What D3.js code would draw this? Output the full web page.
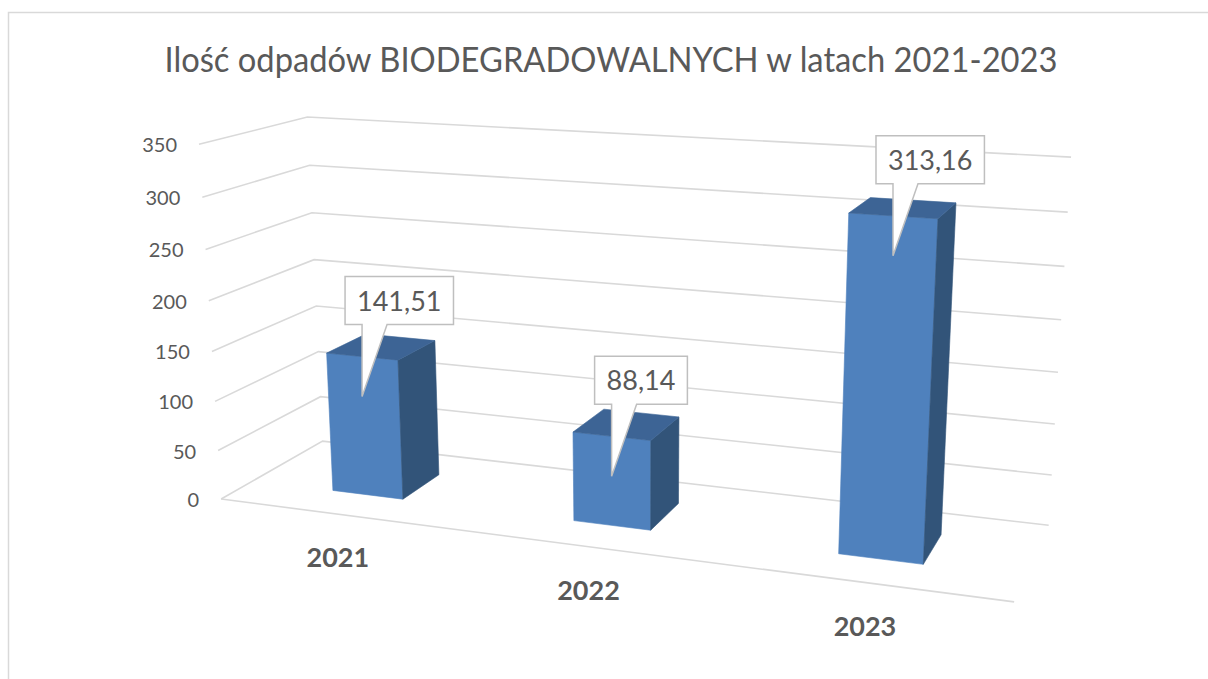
<!DOCTYPE html>
<html><head><meta charset="utf-8">
<script src="https://cdn.jsdelivr.net/npm/d3@7"></script>
<style>body{margin:0;background:#fff;overflow:hidden}</style>
</head><body>
<svg id="chart" width="1208" height="679"></svg>
<script>
// ---- data ----
const categories = ["2021", "2022", "2023"];
const values = [141.51, 88.14, 313.16];
const valueLabels = ["141,51", "88,14", "313,16"];
const yTicks = [0, 50, 100, 150, 200, 250, 300, 350];
const yMax = 350;
const title = "Ilość odpadów BIODEGRADOWALNYCH w latach 2021-2023";

// ---- 3D frame calibration (world [cat, value, depth] -> screen) ----
const frame = [
  {w: [0, 0, 0], s: [222, 499]},
  {w: [0, 0, 1], s: [322, 441]},
  {w: [1, 0, 1], s: [1049, 525]},
  {w: [1, 0, 0], s: [1014, 602]},
  {w: [0, 1, 0], s: [199, 144]},
  {w: [0, 1, 1], s: [308, 117]},
  {w: [1, 1, 1], s: [1071, 157]},
  {w: [0, 4/7, 0], s: [208, 301]},
  {w: [0, 4/7, 1], s: [314, 260]},
  {w: [1, 4/7, 1], s: [1061, 320]}
];

function solveLinear(M, r) {
  const n = r.length;
  const A = M.map((row, i) => row.concat([r[i]]));
  for (let c = 0; c < n; c++) {
    let p = c;
    for (let i = c + 1; i < n; i++) if (Math.abs(A[i][c]) > Math.abs(A[p][c])) p = i;
    [A[c], A[p]] = [A[p], A[c]];
    for (let i = 0; i < n; i++) {
      if (i === c) continue;
      const f = A[i][c] / A[c][c];
      for (let k = c; k <= n; k++) A[i][k] -= f * A[c][k];
    }
  }
  return A.map((row, i) => row[n] / row[i]);
}

function calibrate(pts) {
  const rows = [], rhs = [];
  pts.forEach(({w: [X, Y, Z], s: [u, v]}) => {
    rows.push([X, Y, Z, 1, 0, 0, 0, 0, -u * X, -u * Y, -u * Z]); rhs.push(u);
    rows.push([0, 0, 0, 0, X, Y, Z, 1, -v * X, -v * Y, -v * Z]); rhs.push(v);
  });
  const n = 11;
  const M = d3.range(n).map(i => d3.range(n).map(j => d3.sum(rows, r => r[i] * r[j])));
  const r = d3.range(n).map(i => d3.sum(rows, (row, k) => row[i] * rhs[k]));
  const p = solveLinear(M, r);
  return (X, Y, Z) => {
    const w = p[8] * X + p[9] * Y + p[10] * Z + 1;
    return [(p[0] * X + p[1] * Y + p[2] * Z + p[3]) / w,
            (p[4] * X + p[5] * Y + p[6] * Z + p[7]) / w];
  };
}
const proj = calibrate(frame);

// ---- scales ----
const x = d3.scaleBand().domain(categories).range([0, 1]).paddingInner(0.7).paddingOuter(0.35);
const y = d3.scaleLinear().domain([0, yMax]).range([0, 1]);
const zFront = 0.3, zBack = 0.7;

const svg = d3.select("#chart");
const FONT = "Lato, 'Open Sans', sans-serif";
const grid = "#d9d9d9";

// border
svg.append("rect").attr("x", 8.5).attr("y", 12.5).attr("width", 1400).attr("height", 900)
  .attr("fill", "none").attr("stroke", "#d9d9d9").attr("stroke-width", 1.5);

// title
svg.append("text").attr("x", 611).attr("y", 72).attr("text-anchor", "middle")
  .attr("font-family", FONT).attr("font-size", 34).attr("fill", "#595959")
  .attr("textLength", 893).attr("lengthAdjust", "spacingAndGlyphs")
  .text(title);

const line = d3.line();

// gridlines: left wall + back wall
svg.append("g").selectAll("path").data(yTicks).join("path")
  .attr("d", t => line([proj(0, y(t), 0), proj(0, y(t), 1), proj(1, y(t), 1)]))
  .attr("fill", "none").attr("stroke", grid).attr("stroke-width", 1.6);
// floor front edge
svg.append("path").attr("d", line([proj(0, 0, 0), proj(1, 0, 0)]))
  .attr("fill", "none").attr("stroke", grid).attr("stroke-width", 1.6);

// y tick labels
svg.append("g").selectAll("text").data(yTicks).join("text")
  .attr("x", t => proj(0, y(t), 0)[0] - 22)
  .attr("y", t => proj(0, y(t), 0)[1] + 8)
  .attr("text-anchor", "end").attr("font-family", FONT).attr("font-size", 20)
  .attr("fill", "#595959").text(t => t);

// bars
const bars = categories.map((c, i) => ({c, v: values[i], label: valueLabels[i]}));
const faces = d => {
  const x0 = x(d.c), x1 = x0 + x.bandwidth(), h = y(d.v);
  return [
    {k: "front", fill: "#4f81bd", pts: [[x0, 0, zFront], [x1, 0, zFront], [x1, h, zFront], [x0, h, zFront]]},
    {k: "side", fill: "#325479", pts: [[x1, 0, zFront], [x1, 0, zBack], [x1, h, zBack], [x1, h, zFront]]},
    {k: "top", fill: "#3d6495", pts: [[x0, h, zFront], [x1, h, zFront], [x1, h, zBack], [x0, h, zBack]]}
  ];
};
svg.append("g").selectAll("g").data(bars).join("g")
  .selectAll("path").data(faces).join("path")
  .attr("d", f => line(f.pts.map(p => proj(...p))) + "Z")
  .attr("fill", f => f.fill).attr("stroke", f => f.fill).attr("stroke-width", 0.6);

// category labels
svg.append("g").selectAll("text").data(bars).join("text")
  .attr("x", d => proj(x(d.c) + x.bandwidth() / 2, 0, 0)[0])
  .attr("y", d => proj(x(d.c) + x.bandwidth() / 2, 0, 0)[1] + 53)
  .attr("text-anchor", "middle").attr("font-family", FONT).attr("font-weight", "bold")
  .attr("font-size", 27).attr("fill", "#595959").text(d => d.c);

// data label callouts
const callouts = svg.append("g").selectAll("g").data(bars).join("g");
callouts.each(function(d) {
  const g = d3.select(this);
  const ft = proj(x(d.c) + x.bandwidth() / 2, y(d.v), zFront);
  const tipX = ft[0], tipY = ft[1] + 40;
  const bottom = ft[1] - 32, top = bottom - 48;
  const txt = g.append("text").attr("font-family", FONT).attr("font-size", 27)
    .attr("fill", "#595959").text(d.label);
  const tw = txt.node().getComputedTextLength();
  const left = tipX - 17, right = left + tw + 24;
  g.insert("path", "text")
    .attr("d", `M${left},${top}H${right}V${bottom}H${tipX + 25}L${tipX},${tipY}L${tipX},${bottom}H${left}Z`)
    .attr("fill", "#fff").attr("stroke", "#bfbfbf").attr("stroke-width", 1.5);
  txt.attr("x", (left + right) / 2).attr("y", (top + bottom) / 2 + 10).attr("text-anchor", "middle");
});
</script>
</body></html>
